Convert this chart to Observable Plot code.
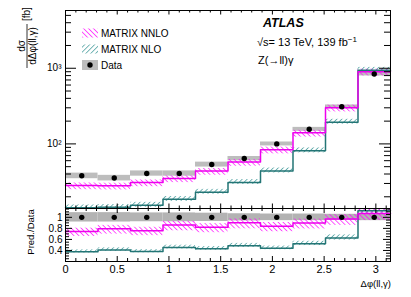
<!DOCTYPE html>
<html><head><meta charset="utf-8">
<script src="https://cdn.jsdelivr.net/npm/d3@7"></script>
<script src="https://cdn.jsdelivr.net/npm/@observablehq/plot@0.6"></script>
<style>
body{margin:0;background:#fff;font-family:"Liberation Sans",Arial,sans-serif;}
#wrap{position:relative;width:411px;height:297px;overflow:hidden;background:#fff;}
#wrap svg{position:absolute;left:0;}
#ratio g[aria-label^="x-axis"] text{font-size:11px;}
#ratio g[aria-label^="y-axis"] text{font-size:10px;}
</style></head><body>
<svg width="0" height="0" style="position:absolute">
  <defs>
    <pattern id="hatchM" patternUnits="userSpaceOnUse" width="3.5" height="3.5" patternTransform="rotate(-45)">
      <line x1="0" y1="0" x2="0" y2="3.5" stroke="#ff10ff" stroke-width="1.4"/>
    </pattern>
    <pattern id="hatchT" patternUnits="userSpaceOnUse" width="3.5" height="3.5" patternTransform="rotate(45)">
      <line x1="0" y1="0" x2="0" y2="3.5" stroke="#2f9090" stroke-width="1.3"/>
    </pattern>
  </defs>
</svg>
<div id="wrap"></div>
<script>
// ---- data ----
const binEdges = [0, 0.3142, 0.6283, 0.9425, 1.2566, 1.5708, 1.8850, 2.1991, 2.5133, 2.8274, 3.1416];
const dataValues = [37.9, 35.4, 40.7, 40.7, 53.4, 64, 100, 156, 310, 841];
const dataRelErr = [0.085, 0.085, 0.08, 0.08, 0.075, 0.065, 0.06, 0.06, 0.055, 0.06];
const nnloValues = [28.2, 28.0, 30.9, 35.0, 43.8, 57.6, 84, 140, 301, 900];
const nnloErrUp = [0.08, 0.08, 0.08, 0.08, 0.08, 0.08, 0.08, 0.08, 0.08, 0.08];
const nnloErrDown = [0.12, 0.12, 0.12, 0.12, 0.12, 0.12, 0.12, 0.12, 0.12, 0.12];
const nloValues = [14.3, 14.5, 15.5, 18.5, 23.0, 31.0, 44.0, 81.1, 194, 942];
const nloErrUp = [0.09, 0.09, 0.09, 0.09, 0.09, 0.09, 0.09, 0.09, 0.09, 0.09];
const nloErrDown = [0.06, 0.06, 0.06, 0.06, 0.06, 0.06, 0.06, 0.06, 0.06, 0.06];
const xTickLabels = [0, 0.5, 1, 1.5, 2, 2.5, 3];
const xMinorTicks = [0.1,0.2,0.3,0.4,0.6,0.7,0.8,0.9,1.1,1.2,1.3,1.4,1.6,1.7,1.8,1.9,2.1,2.2,2.3,2.4,2.6,2.7,2.8,2.9,3.1];
const mainMajorTicks = [100, 1000];
const mainMinorTicks = [20,30,40,50,60,70,80,90,200,300,400,500,600,700,800,900,2000,3000,4000,5000];
const ratioMajorTicks = [0.2, 0.4, 0.6, 0.8, 1];
const ratioMinorTicks = [0.25,0.3,0.35,0.45,0.5,0.55,0.65,0.7,0.75,0.85,0.9,0.95,1.05,1.1,1.15];

const FONT = "'Liberation Sans', Arial, sans-serif";
const MAG = "#ee00ee", TEAL = "#237575", GRAY = "#bdbdbd", RGRAY = "#b3b3b3";

const bins = dataValues.map((v, i) => ({
  x1: binEdges[i], x2: binEdges[i + 1], xc: (binEdges[i] + binEdges[i + 1]) / 2,
  data: v, dLo: v * (1 - dataRelErr[i]), dHi: v * (1 + dataRelErr[i]),
  nnlo: nnloValues[i], nnloLo: nnloValues[i] * (1 - nnloErrDown[i]), nnloHi: nnloValues[i] * (1 + nnloErrUp[i]),
  nlo: nloValues[i], nloLo: nloValues[i] * (1 - nloErrDown[i]), nloHi: nloValues[i] * (1 + nloErrUp[i]),
  r: 1, rdLo: 1 - dataRelErr[i], rdHi: 1 + dataRelErr[i],
  rNnlo: nnloValues[i] / v, rNnloLo: nnloValues[i] * (1 - nnloErrDown[i]) / v, rNnloHi: nnloValues[i] * (1 + nnloErrUp[i]) / v,
  rNlo: nloValues[i] / v, rNloLo: nloValues[i] * (1 - nloErrDown[i]) / v, rNloHi: nloValues[i] * (1 + nloErrUp[i]) / v
}));
function steps(key) {
  const pts = bins.map(b => ({x: b.x1, y: b[key]}));
  const last = bins[bins.length - 1];
  pts.push({x: last.x2, y: last[key]});
  return pts;
}

// frame geometry
const W = 411, mL = 65, mR = 21;
const innerW = W - mL - mR;
const mainH = 209, mainTop = 10, mainBottom = 1, mainInner = mainH - mainTop - mainBottom;
const ratH = 90, ratTop = 1, ratBottom = 36, ratInner = ratH - ratTop - ratBottom;

function xTicks(inner, major, minor) {
  return [
    Plot.tickX(xTickLabels, {x: d => d, insetTop: inner - major, stroke: "black"}),
    Plot.tickX(xMinorTicks, {x: d => d, insetTop: inner - minor, stroke: "black"}),
    Plot.tickX(xTickLabels, {x: d => d, insetBottom: inner - major, stroke: "black"}),
    Plot.tickX(xMinorTicks, {x: d => d, insetBottom: inner - minor, stroke: "black"})
  ];
}
function yTicks(majorArr, minorArr, major, minor) {
  return [
    Plot.tickY(majorArr, {y: d => d, insetRight: innerW - major, stroke: "black"}),
    Plot.tickY(minorArr, {y: d => d, insetRight: innerW - minor, stroke: "black"}),
    Plot.tickY(majorArr, {y: d => d, insetLeft: innerW - major, stroke: "black"}),
    Plot.tickY(minorArr, {y: d => d, insetLeft: innerW - minor, stroke: "black"})
  ];
}

const main = Plot.plot({
  width: W, height: mainH, marginLeft: mL, marginRight: mR, marginTop: mainTop, marginBottom: mainBottom,
  style: {fontFamily: FONT, fontSize: "10px", background: "transparent"},
  x: {domain: [0, Math.PI], axis: null},
  y: {type: "log", domain: [14, 5800], clamp: true, ticks: mainMajorTicks,
      tickFormat: d => d === 100 ? "10²" : "10³", tickSize: 0, tickPadding: 4, label: null},
  marks: [
    Plot.rect(bins, {x1: "x1", x2: "x2", y1: "dLo", y2: "dHi", fill: GRAY}),
    Plot.rect(bins, {x1: "x1", x2: "x2", y1: "nloLo", y2: "nloHi", fill: "url(#hatchT)"}),
    Plot.rect(bins, {x1: "x1", x2: "x2", y1: "nnloLo", y2: "nnloHi", fill: "url(#hatchM)"}),
    Plot.line(steps("nlo"), {x: "x", y: "y", curve: "step-after", stroke: TEAL, strokeWidth: 1.5}),
    Plot.line(steps("nnlo"), {x: "x", y: "y", curve: "step-after", stroke: MAG, strokeWidth: 1.5}),
    Plot.dot(bins, {x: "xc", y: "data", r: 2.7, fill: "black"}),
    ...xTicks(mainInner, 4.5, 2.5),
    ...yTicks(mainMajorTicks, mainMinorTicks, 11, 6),
    Plot.frame({stroke: "black"})
  ]
});
main.style.top = "0px";
main.id = "main";

const ratio = Plot.plot({
  width: W, height: ratH, marginLeft: mL, marginRight: mR, marginTop: ratTop, marginBottom: ratBottom,
  style: {fontFamily: FONT, fontSize: "10px", background: "transparent"},
  x: {domain: [0, Math.PI], ticks: xTickLabels, tickFormat: d => String(d), tickSize: 0, tickPadding: 4, label: null},
  y: {domain: [0.2, 1.16], clamp: true, ticks: [0.4, 0.6, 0.8, 1],
      tickFormat: d => d === 1 ? "1" : d.toFixed(1), tickSize: 0, tickPadding: 3, label: null},
  marks: [
    Plot.rect(bins, {x1: "x1", x2: "x2", y1: "rdLo", y2: "rdHi", fill: RGRAY}),
    Plot.rect(bins, {x1: "x1", x2: "x2", y1: "rNloLo", y2: "rNloHi", fill: "url(#hatchT)"}),
    Plot.rect(bins, {x1: "x1", x2: "x2", y1: "rNnloLo", y2: "rNnloHi", fill: "url(#hatchM)"}),
    Plot.line(steps("rNlo"), {x: "x", y: "y", curve: "step-after", stroke: TEAL, strokeWidth: 1.5}),
    Plot.line(steps("rNnlo"), {x: "x", y: "y", curve: "step-after", stroke: MAG, strokeWidth: 1.5}),
    Plot.dot(bins, {x: "xc", y: "r", r: 2.7, fill: "black"}),
    ...xTicks(ratInner, 5, 3),
    ...yTicks(ratioMajorTicks, ratioMinorTicks, 7, 4),
    Plot.frame({stroke: "black"})
  ]
});
ratio.style.top = "207px";
ratio.id = "ratio";

const wrap = document.getElementById("wrap");
wrap.appendChild(main);
wrap.appendChild(ratio);

// ---- annotations, legend, axis titles ----
const ns = "http://www.w3.org/2000/svg";
const over = document.createElementNS(ns, "svg");
over.setAttribute("width", W); over.setAttribute("height", 297);
over.style.top = "0px";
over.style.fontFamily = FONT;
over.innerHTML = `
  <text x="263" y="26.5" font-size="12.5" font-weight="bold" font-style="italic">ATLAS</text>
  <text x="257" y="46" font-size="11">√s= 13 TeV, 139 fb<tspan dy="-4" font-size="8">−1</tspan></text>
  <text x="258" y="64" font-size="11">Z(→ll)γ</text>
  <rect x="82" y="28.5" width="16" height="9" fill="url(#hatchM)"/>
  <text x="101" y="37" font-size="10">MATRIX NNLO</text>
  <rect x="82" y="44.5" width="16" height="9" fill="url(#hatchT)"/>
  <text x="101" y="53" font-size="10">MATRIX NLO</text>
  <rect x="82" y="60" width="16" height="10" fill="${GRAY}"/>
  <circle cx="90" cy="65" r="2.7" fill="black"/>
  <text x="101" y="69" font-size="10">Data</text>
  <g transform="translate(27,46) rotate(-90)" font-size="10">
    <text x="0" y="-2.5" text-anchor="middle">dσ</text>
    <line x1="-22" x2="22" y1="0" y2="0" stroke="black" stroke-width="0.8"/>
    <text x="0" y="8.5" text-anchor="middle">dΔφ(ll,γ)</text>
    <text x="25" y="2.5">[fb]</text>
  </g>
  <text transform="translate(34,232) rotate(-90)" text-anchor="middle" font-size="9.5">Pred./Data</text>
  <text x="391" y="287" text-anchor="end" font-size="9.5">Δφ(ll,γ)</text>
`;
wrap.appendChild(over);
</script>
</body></html>
